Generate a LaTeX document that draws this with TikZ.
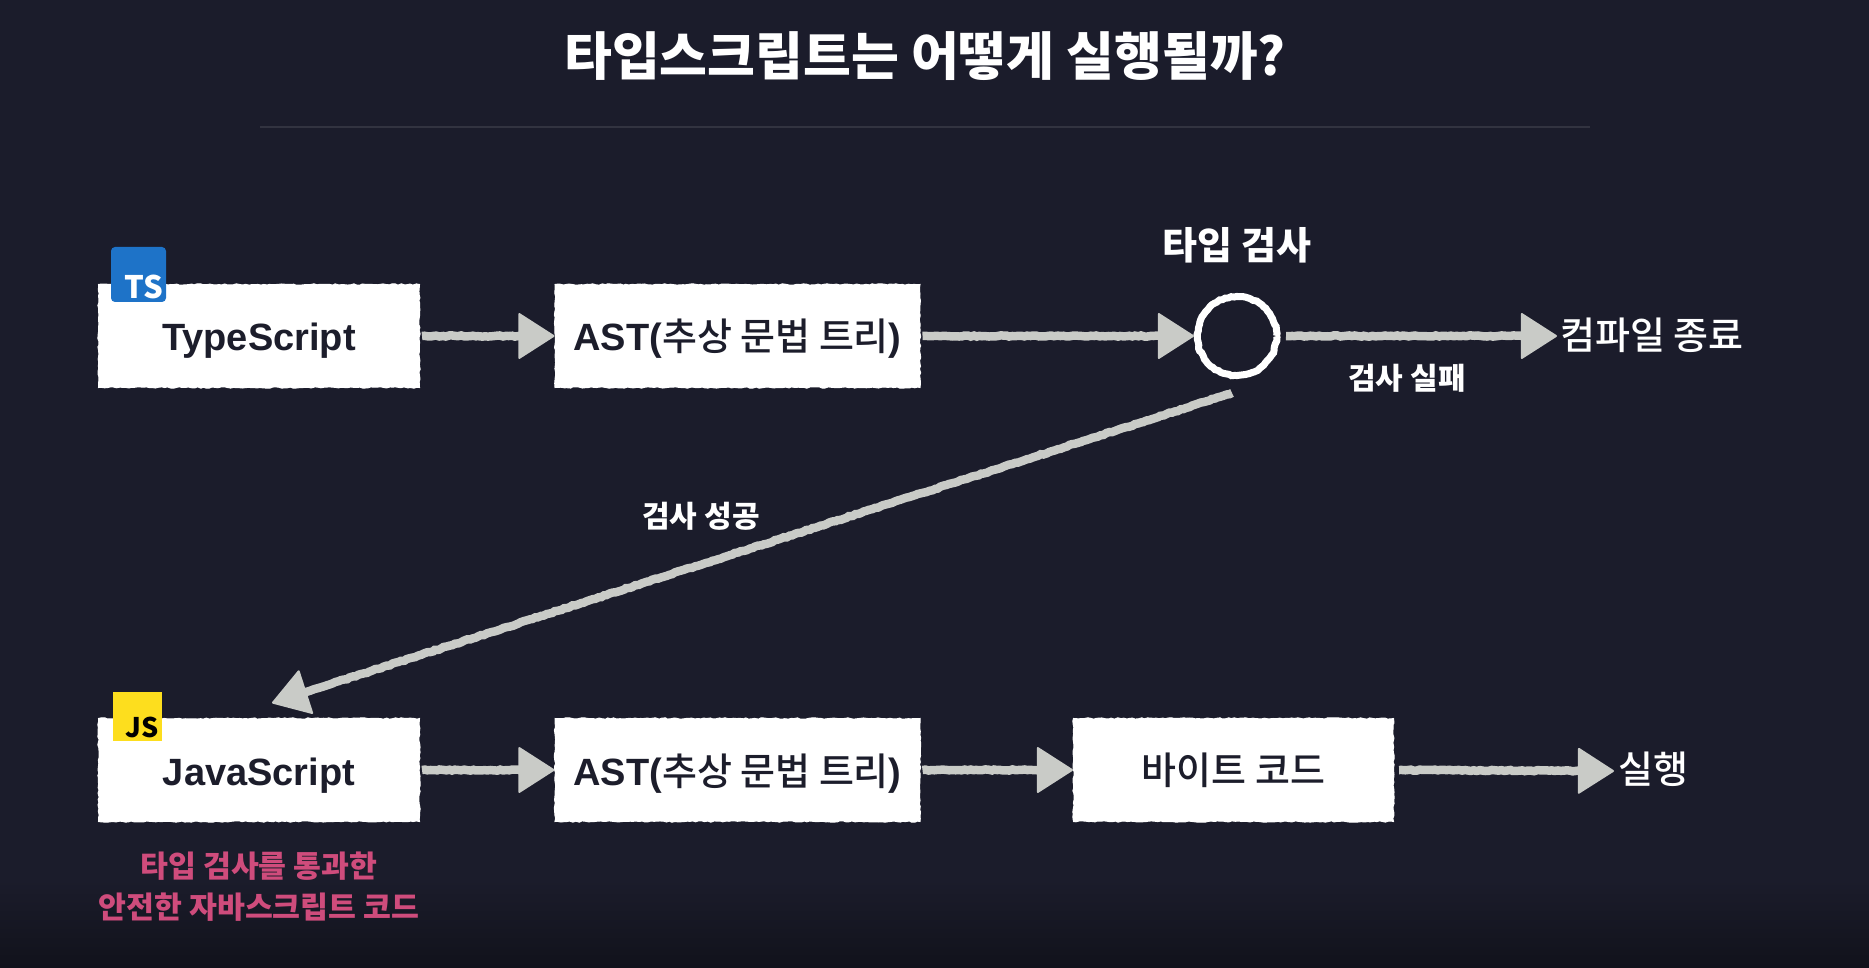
\documentclass[tikz,border=0pt]{standalone}
\usepackage{fontspec}
\setmainfont{Noto Sans CJK KR}
\newfontfamily\latinfont{Liberation Sans}
\newfontfamily\krmedium{Noto Sans CJK KR Medium}
\usepackage{xcolor}
\usetikzlibrary{arrows.meta,decorations.pathmorphing}
\definecolor{slidebg}{HTML}{1B1C2B}
\definecolor{slidelow}{HTML}{11121B}
\definecolor{chalk}{HTML}{C9CBC7}
\definecolor{inkdark}{HTML}{1C1D2B}
\definecolor{passred}{HTML}{CF4C7C}
\newcommand{\boxlabel}[1]{\raisebox{-15pt}[0pt][0pt]{#1}}
\newcommand{\astlabel}{\boxlabel{{\latinfont\bfseries AST(}{\krmedium 추상 문법 트리}{\latinfont\bfseries )}}}

\begin{document}
\begin{tikzpicture}[x=1pt,y=-1pt,
box/.style = {fill=white, draw=white, line width=1pt, minimum height=103pt, inner sep=0pt, text=inkdark, font=\fontsize{38}{44}\selectfont,
    decorate, decoration={random steps, segment length=3pt, amplitude=.7pt}},
flow/.style = {draw=chalk, line width=8.5pt, -{Triangle[length=37pt,width=47pt,round,line width=2pt]},
    decorate, decoration={random steps, segment length=3pt, amplitude=.6pt, post length=14pt}},
word/.style = {text=white, inner sep=0pt, font=\fontsize{38}{44}\selectfont\krmedium},
small/.style = {text=white, inner sep=0pt, font=\fontsize{30}{36}\selectfont\bfseries}]

    \pgfmathsetseed{7}
    \useasboundingbox (0,0) rectangle (1869,968);
    \fill[slidebg] (0,0) rectangle (1869,880);
    \shade[top color=slidebg, bottom color=slidelow] (0,880) rectangle (1869,968);

    \node[text=white, inner sep=0pt, font=\fontsize{52}{60}\selectfont\bfseries] (title) at (925,56) {타입스크립트는 어떻게 실행될까?};
    \draw[color=white!10!slidebg, line width=1.5pt] (260,127) -- (1590,127);

    \node[box, minimum width=321pt] (ts) at (259,336) {\boxlabel{\latinfont\bfseries TypeScript}};
    \node[box, minimum width=365pt] (ast1) at (737.5,336) {\astlabel};
    \node[draw=white, line width=7pt, circle, minimum size=79pt, inner sep=0pt, decorate, decoration={random steps, segment length=3pt, amplitude=.7pt}] (check) at (1237,336) {};
    \node[word, font=\fontsize{38}{44}\selectfont\bfseries] (checktext) at (1237,245) {타입 검사};
    \node[word, anchor=west] (stop) at (1560,335) {컴파일 종료};

    \node[box, minimum width=321pt] (js) at (259,770) {\boxlabel{\latinfont\bfseries JavaScript}};
    \node[box, minimum width=365pt] (ast2) at (737.5,770) {\astlabel};
    \node[box, minimum width=320pt] (bytes) at (1233.5,770) {{\krmedium 바이트 코드}};
    \node[word, anchor=west] (run) at (1618,769) {실행};

    \node[fill={rgb,255:red,30;green,115;blue,200}, rounded corners=4pt, minimum size=55pt, inner sep=0pt] (tsicon) at (138.5,274.5) {};
    \node[anchor=south east, text=white, inner sep=3pt, font=\fontsize{31}{31}\selectfont\bfseries] (tstext) at (tsicon.south east) {TS};
    \node[fill={rgb,255:red,253;green,222;blue,30}, minimum size=49pt, inner sep=0pt] (jsicon) at (137.5,716.5) {};
    \node[anchor=south east, text=black, inner sep=3pt, font=\fontsize{27}{27}\selectfont\bfseries] (jstext) at (jsicon.south east) {JS};

    \node[small] (fail) at (1407,378) {검사 실패};
    \node[small] (pass) at (701,516) {검사 성공};
    \node[text=passred, inner sep=0pt, align=center, font=\fontsize{30.3}{41}\selectfont\bfseries] (passnote) at (259,887) {타입 검사를 통과한\\안전한 자바스크립트 코드};

    \draw [flow] (ts.east) ++(2,0) -- (ast1.west);
    \draw [flow] (ast1.east) ++(2,0) -- (check.west);
    \draw [flow] ([xshift=6pt]check.east) -- ([xshift=-3pt,yshift=-1pt]stop.west);
    \draw [flow] ([xshift=-5pt,yshift=-14pt]check.south) -- ([xshift=13pt,yshift=15pt]js.north);

    \draw [flow] (js.east) ++(2,0) -- (ast2.west);
    \draw [flow] (ast2.east) ++(2,0) -- (bytes.west);
    \draw [flow] (bytes.east) ++(5,0) -- ([xshift=-4pt,yshift=-2pt]run.west);

\end{tikzpicture}
\end{document}
